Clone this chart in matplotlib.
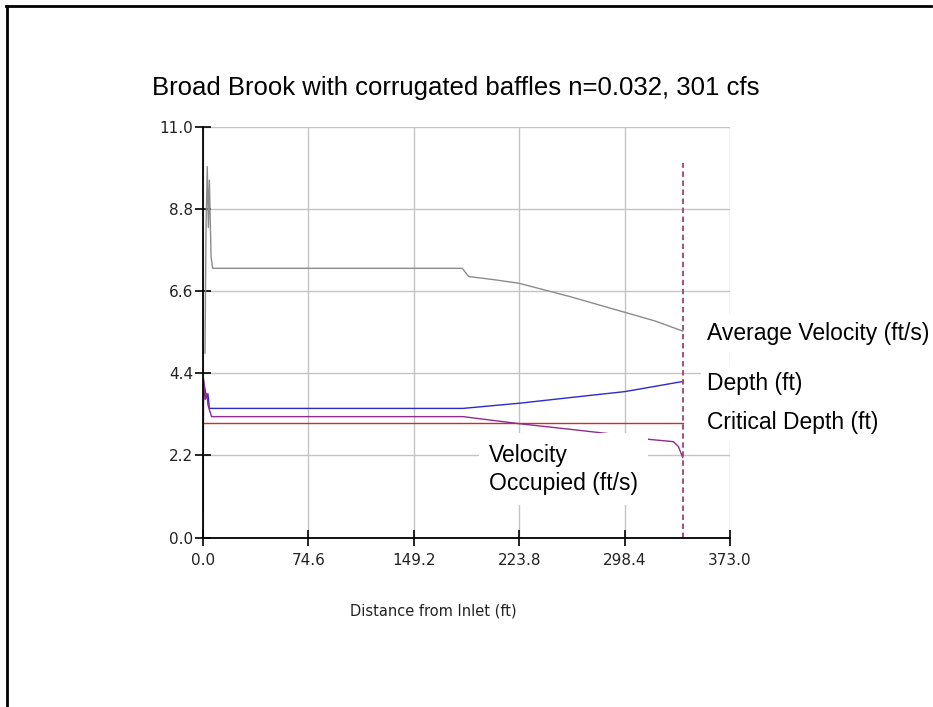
from matplotlib import pyplot as plt
from matplotlib.lines import Line2D

# 数据
x_ticks = [0.0, 74.6, 149.2, 223.8, 298.4, 373.0]
y_ticks = [0.0, 2.2, 4.4, 6.6, 8.8, 11.0]

avg_vel_x = [1.4, 2.1, 3.0, 3.8, 4.5, 5.7, 6.8, 183.5, 188.0, 205.0, 223.6, 260.0, 298.7, 320.0, 339.5]
avg_vel_y = [4.94, 8.24, 9.93, 8.3, 9.57, 7.52, 7.21, 7.21, 6.99, 6.91, 6.81, 6.45, 6.03, 5.80, 5.53]

depth_x = [0.2, 1.5, 2.5, 3.5, 4.5, 184.0, 224.3, 260.0, 298.7, 339.5]
depth_y = [4.22, 3.95, 3.74, 3.85, 3.46, 3.46, 3.60, 3.75, 3.91, 4.18]

crit_x = [0.5, 339.5]
crit_y = [3.08, 3.08]

vel_occ_x = [0.0, 0.4, 1.5, 2.7, 3.5, 6.0, 184.0, 224.0, 260.0, 295.0, 316.0, 333.0, 336.5, 339.5]
vel_occ_y = [0.70, 4.25, 3.7, 3.85, 3.55, 3.24, 3.24, 3.05, 2.90, 2.75, 2.63, 2.57, 2.44, 2.15]

culvert_end = 339.5
culvert_top = 10.02

fig = plt.figure(figsize=(9.33, 7.07), dpi=100)
ax = fig.add_axes([0.2176, 0.2395, 0.5648, 0.5813])

ax.plot(avg_vel_x, avg_vel_y, color='#8c8c8c', lw=1.0)
ax.plot(depth_x, depth_y, color='#2a2acd', lw=1.0)
ax.plot(crit_x, crit_y, color='#d42a2a', lw=1.0)
ax.plot(vel_occ_x, vel_occ_y, color='#8e2c8e', lw=1.0)
ax.plot([culvert_end, culvert_end], [0, culvert_top], color='#a0406e', lw=1.3,
        linestyle=(0, (3, 2)))

ax.set_xlim(0, 373)
ax.set_ylim(0, 11)
ax.set_xticks(x_ticks)
ax.set_xticklabels(['{:.1f}'.format(v) for v in x_ticks])
ax.set_yticks(y_ticks)
ax.set_yticklabels(['{:.1f}'.format(v) for v in y_ticks])
ax.tick_params(axis='both', direction='inout', length=12, width=1.2, labelsize=11)
ax.tick_params(axis='x', pad=5)
ax.tick_params(axis='y', pad=1)
for lab in ax.get_xticklabels() + ax.get_yticklabels():
    lab.set_family('DejaVu Sans')
    lab.set_color('#222222')

ax.spines['top'].set_visible(False)
ax.spines['right'].set_visible(False)
ax.spines['left'].set_linewidth(1.3)
ax.spines['bottom'].set_linewidth(1.3)

# 网格线
ax.grid(True, color='#c4c4c4', lw=1.0)
ax.set_axisbelow(True)

# 曲线名称
box = dict(boxstyle='square,pad=0.3', fc='white', ec='none')
lab_font = dict(family='Liberation Sans', fontsize=16.5)
ax.text(357, avg_vel_y[-1] - 0.06, 'Average Velocity (ft/s)', va='center', ha='left', bbox=box, **lab_font)
ax.text(357, depth_y[-1] - 0.06, 'Depth (ft)', va='center', ha='left', bbox=box, **lab_font)
ax.text(357, crit_y[-1], 'Critical Depth (ft)', va='center', ha='left', bbox=box, **lab_font)
ax.text(202.4, 2.52, 'Velocity\nOccupied (ft/s)', va='top', ha='left', linespacing=1.3,
        bbox=dict(boxstyle='square,pad=0.45', fc='white', ec='none'), **lab_font)

fig.text(0.163, 0.8755, 'Broad Brook with corrugated baffles n=0.032, 301 cfs',
         family='Liberation Sans', fontsize=18.5, va='center', ha='left')
fig.text(0.464, 0.136, 'Distance from Inlet (ft)', family='DejaVu Sans', fontsize=10.5,
         va='center', ha='center', color='#222222')

# 外框
fig.add_artist(Line2D([0.007, 0.007], [0, 0.9915], color='black', lw=2, transform=fig.transFigure))
fig.add_artist(Line2D([0.006, 0.998], [0.9915, 0.9915], color='black', lw=2, transform=fig.transFigure))

fig.savefig('out.png', dpi=100)
